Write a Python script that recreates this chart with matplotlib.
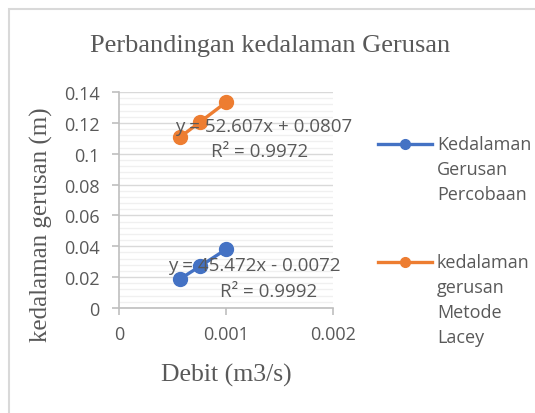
import matplotlib
matplotlib.use('Agg')
import matplotlib.pyplot as plt
from matplotlib.lines import Line2D
from matplotlib.patches import Rectangle
from matplotlib.ticker import MultipleLocator

W, H = 535, 414

# data
debit = [0.00057, 0.00076, 0.001]
percobaan = [0.0188, 0.0272, 0.038]
lacey = [0.1107, 0.1207, 0.1333]

series_names = ['Kedalaman\nGerusan\nPercobaan', 'kedalaman\ngerusan\nMetode\nLacey']
trend_eq = ['y = 45.472x - 0.0072', 'y = 52.607x + 0.0807']
trend_r2 = ['R² = 0.9992', 'R² = 0.9972']

x_ticks = [0, 0.001, 0.002]
x_ticklabels = ['0', '0.001', '0.002']
y_ticks = [0, 0.02, 0.04, 0.06, 0.08, 0.1, 0.12, 0.14]
y_ticklabels = ['0', '0.02', '0.04', '0.06', '0.08', '0.1', '0.12', '0.14']

BLUE = '#4472C4'
ORANGE = '#ED7D31'
GREY = '#595959'
SANS = 'Open Sans'
SERIF = 'Liberation Serif'


def px(x, y):
    # pixel position (from top-left) -> figure fraction
    return x / W, 1 - y / H


fig = plt.figure(figsize=(W / 100, H / 100), dpi=100)
ax = fig.add_axes([119 / W, 1 - 309 / H, (333 - 119) / W, (309 - 93) / H])

ax.plot(debit, percobaan, color=BLUE, lw=2.4, marker='o', ms=10, zorder=3, clip_on=False)
ax.plot(debit, lacey, color=ORANGE, lw=2.4, marker='o', ms=10, zorder=3, clip_on=False)

ax.set_xlim(0, 0.002)
ax.set_ylim(0, 0.14)
ax.set_xticks(x_ticks)
ax.set_xticklabels(x_ticklabels)
ax.set_yticks(y_ticks)
ax.set_yticklabels(y_ticklabels)
ax.yaxis.set_minor_locator(MultipleLocator(0.004))

ax.grid(axis='y', which='major', color='#d9d9d9', lw=1)
ax.grid(axis='y', which='minor', color='#f0f0f0', lw=1)
ax.set_axisbelow(True)

for s in ['top', 'right']:
    ax.spines[s].set_visible(False)
for s in ['left', 'bottom']:
    ax.spines[s].set_color('#bfbfbf')
    ax.spines[s].set_linewidth(1.2)

ax.tick_params(axis='both', which='major', color='#bfbfbf', length=5, width=1.2,
               labelcolor=GREY, labelsize=13)
ax.tick_params(axis='y', which='minor', length=0)
ax.tick_params(axis='x', pad=7)
ax.tick_params(axis='y', pad=9)
for lab in ax.get_xticklabels() + ax.get_yticklabels():
    lab.set_fontfamily(SANS)

# titles
fig.text(*px(270, 46), 'Perbandingan kedalaman Gerusan', ha='center', va='center',
         fontsize=19, family=SERIF, color=GREY)
fig.text(*px(226, 375), 'Debit (m3/s)', ha='center', va='center',
         fontsize=18.5, family=SERIF, color=GREY)
fig.text(*px(41, 225), 'kedalaman gerusan (m)', ha='center', va='center', rotation=90,
         fontsize=18, family=SERIF, color=GREY)

# trendline labels
fig.text(*px(168, 266), trend_eq[0], ha='left', va='center', fontsize=13.5, family=SANS, color=GREY)
fig.text(*px(317, 292), trend_r2[0], ha='right', va='center', fontsize=13.5, family=SANS, color=GREY)
fig.text(*px(175, 127), trend_eq[1], ha='left', va='center', fontsize=13.5, family=SANS, color=GREY)
fig.text(*px(308, 152), trend_r2[1], ha='right', va='center', fontsize=13.5, family=SANS, color=GREY)

# legend
for name, col, y0 in [(series_names[0], BLUE, 145), (series_names[1], ORANGE, 263)]:
    x0, y = px(378, y0)
    x1, _ = px(432, y0)
    fig.add_artist(Line2D([x0, x1], [y, y], color=col, lw=2.4))
    xm, _ = px(405, y0)
    fig.add_artist(Line2D([xm], [y], color=col, marker='o', ms=7))
    for i, line in enumerate(name.split('\n')):
        fig.text(*px(437, y0 + 25 * i), line, ha='left', va='center',
                 fontsize=13, family=SANS, color=GREY)

# chart area border
x0, y0 = px(8.5, 9.5)
fig.add_artist(Rectangle((x0, -0.1), 1.2, y0 + 0.1, fill=False, ec='#d9d9d9', lw=1.5,
                         transform=fig.transFigure))

fig.savefig('out.png', dpi=100)
